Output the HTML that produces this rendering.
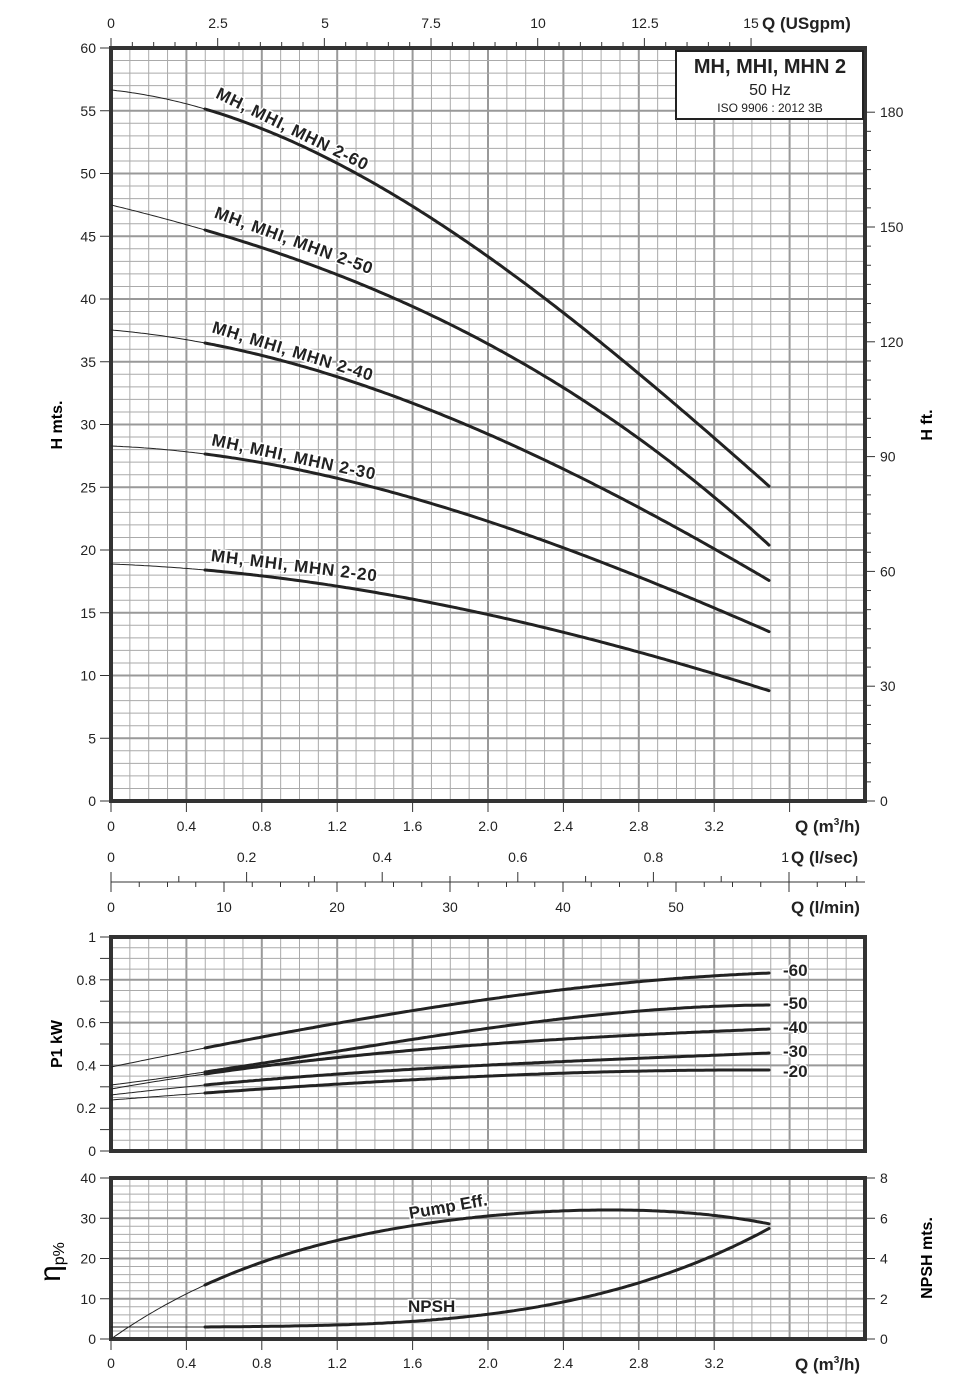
<!DOCTYPE html>
<html><head><meta charset="utf-8"><style>body{margin:0;background:#fff}svg{display:block;font-family:"Liberation Sans",sans-serif}</style></head>
<body>
<svg id="s" width="955" height="1388" viewBox="0 0 955 1388" xmlns="http://www.w3.org/2000/svg">
<g id="g"></g>
<g font-size="14" fill="#222">
<text x="111" y="28" text-anchor="middle">0</text>
<text x="218" y="28" text-anchor="middle">2.5</text>
<text x="325" y="28" text-anchor="middle">5</text>
<text x="431" y="28" text-anchor="middle">7.5</text>
<text x="538" y="28" text-anchor="middle">10</text>
<text x="645" y="28" text-anchor="middle">12.5</text>
<text x="751" y="28" text-anchor="middle">15</text>
<text x="762" y="29" font-weight="bold" font-size="17">Q (USgpm)</text>
</g>
<text x="62" y="425" font-size="16" font-weight="bold" transform="rotate(-90 62 425)" text-anchor="middle">H mts.</text>
<text x="932" y="425" font-size="16" font-weight="bold" transform="rotate(-90 932 425)" text-anchor="middle">H ft.</text>
<text x="62" y="1044" font-size="16" font-weight="bold" transform="rotate(-90 62 1044)" text-anchor="middle">P1 kW</text>
<text x="60" y="1262" font-size="30" transform="rotate(-90 60 1262)" text-anchor="middle">η<tspan font-size="16" dy="4">p%</tspan></text>
<text x="932" y="1258" font-size="16" font-weight="bold" transform="rotate(-90 932 1258)" text-anchor="middle">NPSH mts.</text>
<g font-weight="bold" font-size="17" fill="#222">
<text x="795" y="832">Q (m<tspan font-size="10" dy="-7">3</tspan><tspan dy="7">/h)</tspan></text>
<text x="791" y="863">Q (l/sec)</text>
<text x="791" y="913">Q (l/min)</text>
<text x="795" y="1370">Q (m<tspan font-size="10" dy="-7">3</tspan><tspan dy="7">/h)</tspan></text>
</g>
<rect x="676" y="51" width="187" height="68" fill="#fff" stroke="#222" stroke-width="2"/>
<text x="770" y="73" text-anchor="middle" font-size="20" font-weight="bold" fill="#222">MH, MHI, MHN 2</text>
<text x="770" y="95" text-anchor="middle" font-size="16" fill="#222">50 Hz</text>
<text x="770" y="112" text-anchor="middle" font-size="12" fill="#222">ISO 9906 : 2012 3B</text>
<g id="c" fill="none" stroke="#222" stroke-linecap="round"></g>
<g font-weight="bold" font-size="17" fill="#222" stroke="#fff" stroke-width="3" paint-order="stroke">
<g letter-spacing="0.8">
<text transform="translate(213,101) rotate(26)" dy="-4">MH, MHI, MHN 2-60</text>
<text transform="translate(212,221) rotate(20)" dy="-4">MH, MHI, MHN 2-50</text>
<text transform="translate(210,336) rotate(17)" dy="-4">MH, MHI, MHN 2-40</text>
<text transform="translate(210,449) rotate(12)" dy="-4">MH, MHI, MHN 2-30</text>
<text transform="translate(210,565) rotate(7)" dy="-4">MH, MHI, MHN 2-20</text>
</g>
<text x="783" y="976">-60</text>
<text x="783" y="1009">-50</text>
<text x="783" y="1033">-40</text>
<text x="783" y="1057">-30</text>
<text x="783" y="1077">-20</text>
<text transform="translate(410,1219) rotate(-10)">Pump Eff.</text>
<text x="408" y="1312">NPSH</text>
</g>
</svg>
<script>
const NS="http://www.w3.org/2000/svg",g=document.getElementById('g'),cg=document.getElementById('c');
function L(x1,y1,x2,y2,c,w){const l=document.createElementNS(NS,'line');l.setAttribute('x1',x1);l.setAttribute('y1',y1);l.setAttribute('x2',x2);l.setAttribute('y2',y2);l.setAttribute('stroke',c);l.setAttribute('stroke-width',w);g.appendChild(l);}
function T(x,y,s,a){const t=document.createElementNS(NS,'text');t.setAttribute('x',x);t.setAttribute('y',y);t.setAttribute('text-anchor',a||'end');t.setAttribute('font-size',14);t.setAttribute('fill','#222');t.textContent=s;g.appendChild(t);}
const X0=111,X1=865,px=188.5;
function panel(yt,yb,nh,majEvery){
 for(let i=0;i<=40;i++){const x=X0+i*px/10;L(x,yt,x,yb,i%4==0?'#999':'#aaa',i%4==0?2:1);}
 for(let j=0;j<=nh;j++){const y=yb-(yb-yt)*j/nh;L(X0,y,X1,y,j%majEvery==0?'#999':'#aaa',j%majEvery==0?2:1);}
 const r=document.createElementNS(NS,'rect');r.setAttribute('x',X0);r.setAttribute('y',yt);r.setAttribute('width',X1-X0);r.setAttribute('height',yb-yt);r.setAttribute('fill','none');r.setAttribute('stroke','#333');r.setAttribute('stroke-width',4);g.appendChild(r);
}
panel(48,801,60,5);panel(937,1151,20,4);panel(1178,1339,20,5);
for(let v=0;v<=60;v+=5){const y=801-v*753/60;L(100,y,X0,y,'#333',1);T(96,y+5,v);}
for(let v=0;v<=180;v+=5){const y=801-v*3.8267;if(y<48)break;L(X1,y,X1+(v%30==0?10:6),y,'#333',1);if(v%30==0)T(880,y+5,v,'start');}
for(let v=0;v<=15;v+=0.5){const x=X0+v*42.67;L(x,48,x,Math.abs(v%2.5)<1e-6?38:42,'#333',1);}
for(let i=0;i<=9;i++){const v=i*0.4;const x=X0+v*px;L(x,801,x,812,'#333',1);if(i<9)T(x,831,i==0?'0':(v.toFixed(1)),'middle');}
for(let i=0;i<=8;i++){const v=i*0.4;const x=X0+v*px;L(x,1339,x,1350,'#333',1);T(x,1368,i==0?'0':(v.toFixed(1)),'middle');}
L(X0,882,X1,882,'#333',1);
for(let i=0;i<=11;i++){const x=X0+i*0.1*678;if(x>X1)break;L(x,882,x,i%2==0?872:876,'#333',1);}
for(let i=0;i<=5;i++){const x=X0+i*0.2*678;T(x,862,i==0?'0':(i==5?'1':(i*0.2).toFixed(1)),i==5?'end':'middle');}
for(let v=0;v<=65;v+=2.5){const x=X0+v*11.3;if(x>X1)break;L(x,882,x,v%10==0?892:887,'#333',1);}
for(let v=0;v<=50;v+=10)T(X0+v*11.3,912,v,'middle');
for(let i=0;i<=10;i++){const v=i/10;const y=1151-v*214;L(100,y,X0,y,'#333',1);if(i%2==0)T(96,y+5,i==0?'0':(i==10?'1':v.toFixed(1)));}
for(let v=0;v<=40;v+=10){const y=1339-v*4.025;L(100,y,X0,y,'#333',1);T(96,y+5,v);}
for(let v=0;v<=8;v+=2){const y=1339-v*20.125;L(X1,y,X1+10,y,'#333',1);T(880,y+5,v,'start');}
function lag(p,x){let s=0;for(let i=0;i<p.length;i++){let t=p[i][1];for(let j=0;j<p.length;j++)if(j!=i)t*=(x-p[j][0])/(p[i][0]-p[j][0]);s+=t;}return s;}
function F(f,a,b,w){let d='';for(let x=a;x<=b+0.01;x+=3){const xx=Math.min(x,b);d+=(d?'L':'M')+xx.toFixed(1)+','+f(xx).toFixed(1);}const e=document.createElementNS(NS,'path');e.setAttribute('d',d);e.setAttribute('stroke-width',w);e.setAttribute('stroke-linejoin','round');cg.appendChild(e);}
function P(p,a,b,w){F(x=>lag(p,x),a,b,w);}
function C(p){P(p,111,205,1);P(p,205,770,3);}
C([[111,90],[205,109],[490,258],[770,487]]);
C([[111,205],[205,230],[490,345],[770,546]]);
C([[111,330],[205,343],[490,435],[770,581]]);
C([[111,446],[205,454],[490,522],[770,632]]);
C([[111,564],[205,570],[490,615],[770,691]]);
C([[111,1067],[205,1048],[490,999],[770,973]]);
C([[111,1085],[205,1072],[490,1028],[770,1005]]);
C([[111,1089],[205,1074],[490,1044],[770,1029]]);
C([[111,1095],[205,1085],[490,1065],[770,1053]]);
C([[111,1100],[205,1093],[490,1076],[770,1070]]);
C([[111,1339],[205,1285],[410,1226],[600,1210],[770,1224]]);
F(x=>1327,111,205,1);
F(x=>{const t=(x-205)/565;return 1327-99*(0.05*t+0.95*Math.pow(t,3.2));},205,770,3);
</script>
</body></html>
